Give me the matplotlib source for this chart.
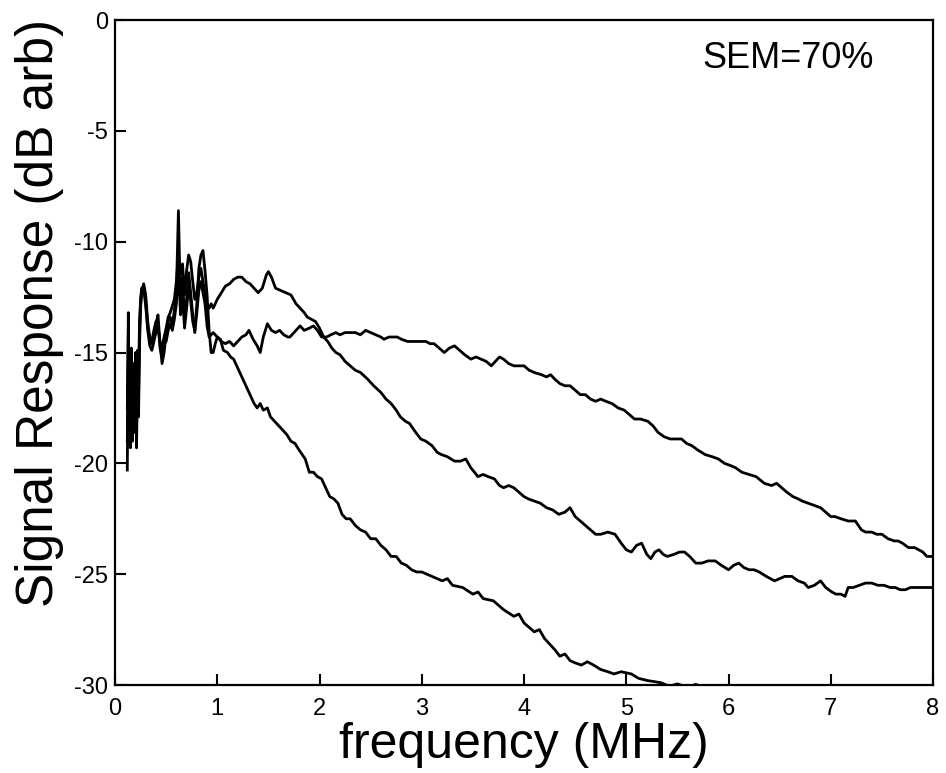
import matplotlib
matplotlib.use("Agg")
import matplotlib.pyplot as plt

plt.rcParams['font.family'] = ['Liberation Sans', 'DejaVu Sans']
plt.rcParams['axes.unicode_minus'] = False

# shared low-frequency grid (MHz)
f_low = [0.12, 0.13, 0.14, 0.15, 0.16, 0.17, 0.18, 0.19, 0.20, 0.21, 0.22, 0.23, 0.24, 0.25, 0.26,
         0.28, 0.30, 0.32, 0.34, 0.36, 0.38, 0.40, 0.42, 0.44, 0.46, 0.48, 0.50, 0.52, 0.54, 0.56,
         0.58, 0.60, 0.62, 0.64, 0.66, 0.68, 0.70, 0.72, 0.74, 0.76, 0.78, 0.80, 0.82, 0.84, 0.86,
         0.88, 0.90, 0.92, 0.94]

# curve with the hump near 1.5 MHz
hump_low = [-17.5, -14.0, -16.8, -18.5, -15.2, -17.9, -16.0, -18.6, -15.8, -17.4, -14.9, -16.2, -13.5, -12.6, -12.1,
            -12.0, -12.7, -13.9, -14.3, -14.5, -14.0, -13.6, -13.9, -14.5, -14.8, -14.3, -13.9, -13.4, -13.2, -12.9,
            -12.6, -11.8, -10.6, -11.5, -11.0, -12.4, -11.3, -10.6, -10.9, -11.8, -12.6, -12.3, -11.6, -11.2, -11.8,
            -12.4, -12.9, -13.0, -12.8]
hump_f = [0.96, 1.00, 1.04, 1.08, 1.12, 1.16, 1.20, 1.24, 1.28, 1.32, 1.36, 1.40, 1.44, 1.48, 1.50, 1.53,
          1.57, 1.62, 1.67, 1.72, 1.77, 1.81, 1.85, 1.88, 1.92, 1.96, 2.00, 2.04, 2.08, 2.12, 2.16, 2.20,
          2.25, 2.30, 2.35, 2.40, 2.47, 2.53, 2.60, 2.65, 2.70, 2.75, 2.79, 2.84, 2.88, 2.94, 2.99, 3.04,
          3.10, 3.15, 3.19, 3.25, 3.32, 3.38, 3.43, 3.48, 3.55, 3.60, 3.65, 3.71, 3.76, 3.80, 3.85, 3.90,
          3.95, 4.00, 4.04, 4.10, 4.16, 4.22, 4.28, 4.34, 4.40, 4.45, 4.50, 4.55, 4.60, 4.65, 4.70, 4.75,
          4.82, 4.89, 4.95, 5.00, 5.05, 5.10, 5.15, 5.20, 5.24, 5.28, 5.32, 5.36, 5.40, 5.47, 5.52, 5.57,
          5.62, 5.68, 5.74, 5.80, 5.87, 5.93, 6.00, 6.05, 6.10, 6.15, 6.20, 6.25, 6.30, 6.37, 6.45, 6.50,
          6.55, 6.62, 6.68, 6.74, 6.78, 6.84, 6.90, 6.95, 7.01, 7.05, 7.10, 7.14, 7.17, 7.22, 7.28, 7.34,
          7.40, 7.46, 7.52, 7.58, 7.63, 7.68, 7.73, 7.78, 7.84, 7.89, 7.94, 7.99]
hump_db = [-13.0, -12.6, -12.3, -12.0, -11.9, -11.7, -11.6, -11.6, -11.8, -11.9, -12.1, -12.3, -12.1, -11.5, -11.35, -11.6,
           -12.1, -12.2, -12.3, -12.4, -12.8, -13.0, -13.2, -13.4, -13.5, -13.6, -13.9, -14.3, -14.5, -14.8, -15.0, -15.1,
           -15.4, -15.6, -15.8, -15.9, -16.2, -16.5, -16.8, -17.1, -17.3, -17.6, -17.9, -18.1, -18.2, -18.6, -18.9, -19.0,
           -19.2, -19.5, -19.6, -19.7, -19.9, -19.9, -19.8, -20.2, -20.6, -20.5, -20.6, -20.7, -21.0, -21.1, -21.0, -21.1,
           -21.3, -21.5, -21.6, -21.7, -21.8, -22.0, -22.1, -22.3, -22.2, -22.0, -22.4, -22.6, -22.8, -23.0, -23.2, -23.2,
           -23.1, -23.2, -23.6, -23.9, -24.0, -23.7, -23.6, -24.1, -24.3, -24.0, -23.9, -24.1, -24.2, -24.1, -24.0, -24.0,
           -24.2, -24.5, -24.5, -24.4, -24.4, -24.6, -24.8, -24.6, -24.5, -24.7, -24.8, -24.8, -24.9, -25.1, -25.3, -25.2,
           -25.1, -25.1, -25.3, -25.4, -25.6, -25.5, -25.3, -25.6, -25.8, -25.9, -25.9, -26.0, -25.6, -25.6, -25.5, -25.4,
           -25.4, -25.5, -25.5, -25.6, -25.6, -25.7, -25.7, -25.6, -25.6, -25.6, -25.6, -25.6]

# curve that stays flat near -14 dB up to ~3 MHz
flat_low = [-20.3, -13.2, -18.0, -19.3, -14.8, -19.0, -15.5, -18.5, -15.0, -19.3, -16.4, -17.9, -14.6, -13.0, -12.3,
            -11.9, -12.4, -13.6, -14.4, -14.6, -14.2, -13.7, -13.3, -14.6, -15.5, -15.0, -14.1, -13.6, -13.4, -13.8,
            -13.1, -12.3, -8.6, -12.8, -11.6, -13.5, -12.6, -11.4, -12.3, -13.3, -14.1, -13.2, -12.2, -11.8, -12.3,
            -12.8, -13.8, -14.3, -14.2]
flat_f = [0.96, 1.00, 1.04, 1.08, 1.12, 1.16, 1.20, 1.24, 1.28, 1.31, 1.35, 1.39, 1.42, 1.45, 1.49, 1.53,
          1.57, 1.61, 1.65, 1.69, 1.71, 1.75, 1.79, 1.81, 1.85, 1.90, 1.94, 1.98, 2.02, 2.07, 2.11, 2.16,
          2.20, 2.25, 2.30, 2.35, 2.40, 2.45, 2.50, 2.55, 2.60, 2.63, 2.68, 2.72, 2.76, 2.80, 2.86, 2.92,
          2.98, 3.04, 3.08, 3.12, 3.17, 3.22, 3.27, 3.32, 3.37, 3.42, 3.48, 3.53, 3.58, 3.63, 3.68, 3.72,
          3.76, 3.80, 3.85, 3.90, 3.95, 4.00, 4.05, 4.10, 4.17, 4.22, 4.26, 4.30, 4.35, 4.40, 4.45, 4.50,
          4.55, 4.60, 4.65, 4.70, 4.75, 4.80, 4.86, 4.92, 4.98, 5.03, 5.08, 5.14, 5.21, 5.26, 5.31, 5.37,
          5.43, 5.49, 5.54, 5.59, 5.64, 5.70, 5.77, 5.84, 5.90, 5.96, 6.02, 6.07, 6.13, 6.20, 6.27, 6.35,
          6.42, 6.47, 6.52, 6.57, 6.63, 6.68, 6.72, 6.78, 6.84, 6.90, 6.95, 7.00, 7.04, 7.10, 7.17, 7.24,
          7.30, 7.34, 7.40, 7.45, 7.50, 7.56, 7.62, 7.66, 7.70, 7.76, 7.82, 7.86, 7.90, 7.94, 7.99]
flat_db = [-14.1, -14.3, -14.5, -14.6, -14.5, -14.7, -14.5, -14.3, -14.2, -14.0, -14.4, -14.7, -15.0, -14.3, -13.7, -14.0,
           -14.1, -14.0, -14.2, -14.3, -14.3, -14.1, -13.9, -13.8, -14.0, -13.9, -13.8, -14.0, -14.3, -14.3, -14.2, -14.1,
           -14.2, -14.1, -14.1, -14.1, -14.2, -14.0, -14.1, -14.2, -14.3, -14.4, -14.3, -14.3, -14.3, -14.4, -14.5, -14.5,
           -14.5, -14.5, -14.6, -14.6, -14.8, -15.0, -14.8, -14.7, -14.9, -15.1, -15.3, -15.2, -15.3, -15.4, -15.6, -15.4,
           -15.2, -15.3, -15.5, -15.6, -15.6, -15.6, -15.8, -15.9, -16.0, -16.1, -16.0, -16.2, -16.4, -16.5, -16.5, -16.7,
           -16.9, -16.9, -17.1, -17.2, -17.1, -17.2, -17.3, -17.5, -17.6, -17.8, -18.0, -18.0, -18.1, -18.3, -18.6, -18.8,
           -18.9, -18.9, -18.9, -19.1, -19.2, -19.4, -19.6, -19.7, -19.8, -20.0, -20.1, -20.2, -20.4, -20.5, -20.6, -20.9,
           -21.0, -20.9, -21.1, -21.3, -21.5, -21.6, -21.7, -21.8, -21.9, -22.0, -22.2, -22.4, -22.4, -22.5, -22.6, -22.6,
           -23.0, -23.1, -23.1, -23.2, -23.2, -23.4, -23.5, -23.5, -23.6, -23.8, -23.8, -23.9, -24.0, -24.2, -24.2]

# curve that falls off steeply above 1 MHz
steep_low = [-19.0, -15.1, -17.6, -18.2, -16.5, -18.9, -17.1, -17.6, -16.3, -18.5, -15.7, -17.0, -14.0, -12.8, -12.2,
             -12.1, -12.9, -14.0, -14.7, -14.9, -14.5, -14.1, -13.6, -14.8, -15.2, -14.6, -14.5, -14.0, -13.7, -14.0,
             -13.5, -12.8, -11.0, -13.3, -12.5, -13.9, -13.0, -12.0, -12.7, -13.6, -14.0, -12.8, -11.2, -10.6, -10.4,
             -11.3, -12.4, -14.0, -15.0]
steep_f = [0.96, 0.98, 1.00, 1.03, 1.06, 1.10, 1.13, 1.16, 1.20, 1.23, 1.26, 1.30, 1.33, 1.36, 1.39, 1.42,
           1.45, 1.49, 1.52, 1.56, 1.60, 1.64, 1.68, 1.72, 1.76, 1.80, 1.83, 1.86, 1.90, 1.94, 1.98, 2.02,
           2.06, 2.10, 2.14, 2.18, 2.22, 2.26, 2.30, 2.35, 2.40, 2.45, 2.50, 2.55, 2.60, 2.65, 2.70, 2.75,
           2.80, 2.85, 2.90, 2.95, 3.00, 3.10, 3.20, 3.25, 3.30, 3.40, 3.50, 3.55, 3.60, 3.70, 3.80, 3.90,
           3.95, 4.00, 4.10, 4.15, 4.20, 4.30, 4.35, 4.40, 4.45, 4.50, 4.56, 4.62, 4.68, 4.75, 4.82, 4.88,
           4.95, 5.05, 5.12, 5.21, 5.28, 5.34, 5.42, 5.50, 5.60, 5.68, 5.80, 5.95]
steep_db = [-15.0, -14.6, -14.3, -14.4, -14.9, -15.0, -15.2, -15.3, -15.7, -16.0, -16.3, -16.7, -17.0, -17.3, -17.5, -17.3,
            -17.6, -17.5, -17.9, -18.1, -18.3, -18.5, -18.7, -19.0, -19.1, -19.4, -19.6, -19.8, -20.4, -20.4, -20.6, -20.7,
            -21.1, -21.5, -21.6, -21.8, -22.3, -22.5, -22.5, -22.8, -23.0, -23.1, -23.4, -23.4, -23.7, -23.9, -24.2, -24.2,
            -24.5, -24.6, -24.8, -24.9, -24.9, -25.1, -25.3, -25.2, -25.5, -25.6, -25.9, -25.8, -26.1, -26.2, -26.6, -26.9,
            -26.8, -27.2, -27.6, -27.5, -27.9, -28.4, -28.7, -28.6, -28.9, -29.0, -29.1, -28.95, -29.1, -29.3, -29.4, -29.5,
            -29.4, -29.5, -29.7, -29.8, -29.85, -29.9, -30.05, -29.95, -30.1, -29.97, -30.2, -30.4]

x_ticks = [0, 1, 2, 3, 4, 5, 6, 7, 8]
y_ticks = [0, -5, -10, -15, -20, -25, -30]

fig = plt.figure(figsize=(9.46, 7.73), dpi=100)
ax = fig.add_axes([0.1216, 0.1138, 0.8647, 0.8603])

for lo, f, db in [(hump_low, hump_f, hump_db), (flat_low, flat_f, flat_db), (steep_low, steep_f, steep_db)]:
    ax.plot(f_low + f, lo + db, color='black', lw=2.0, solid_joinstyle='round')

ax.set_xlim(0, 8)
ax.set_ylim(-30, 0)
ax.set_xticks(x_ticks)
ax.set_yticks(y_ticks)
ax.tick_params(direction='in', length=8, width=1.5, labelsize=17)
ax.tick_params(axis='x', pad=9)
ax.tick_params(axis='y', pad=5)
for s in ax.spines.values():
    s.set_linewidth(1.6)

ax.set_xlabel('frequency (MHz)', fontsize=36, labelpad=2)
ax.set_ylabel('Signal Response (dB arb)', fontsize=37)
ax.yaxis.set_label_coords(-0.062, 0.56)

ax.text(0.7176, 0.928, 'SEM=70%', transform=ax.transAxes, fontsize=26, va='baseline', ha='left')

fig.savefig('out.png', dpi=100)
